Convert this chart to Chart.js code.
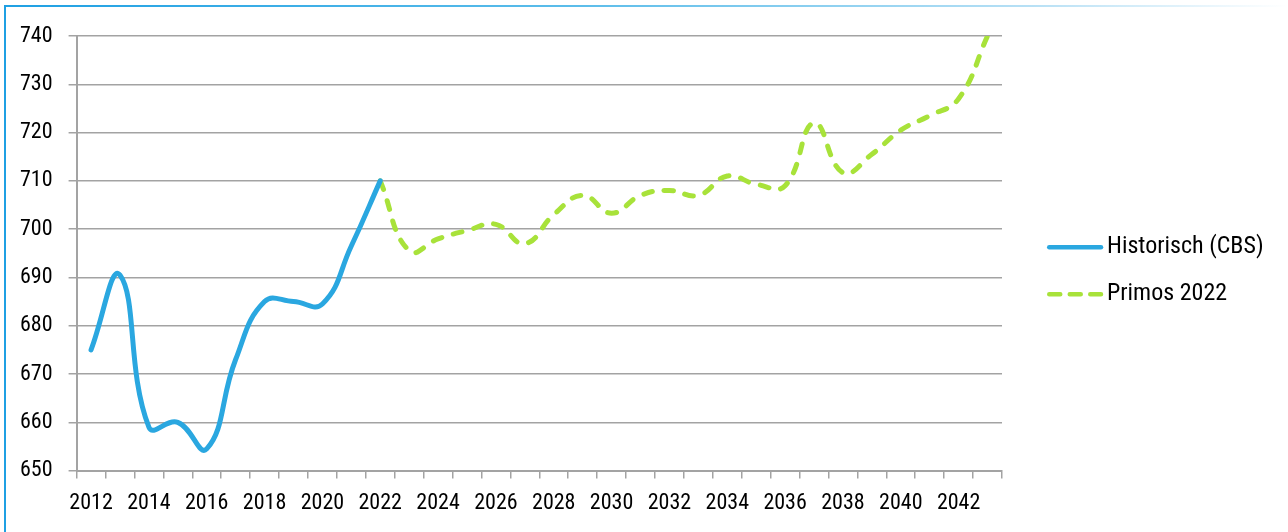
<!DOCTYPE html>
<html>
<head>
<meta charset="utf-8">
<script src="https://cdn.jsdelivr.net/npm/chart.js@4/dist/chart.umd.min.js"></script>
<style>
  html, body { margin: 0; padding: 0; background: #fff; }
  #wrap {
    position: relative;
    width: 1288px;
    height: 532px;
    overflow: hidden;
  }
  /* blue frame: solid left edge, top edge fading out to the right */
  #frame-left {
    position: absolute; left: 4px; top: 5px; width: 2px; height: 527px;
    background: #1fa0e3;
  }
  #frame-top {
    position: absolute; left: 4px; top: 5px; width: 1284px; height: 2px;
    background: linear-gradient(to right, #1fa0e3 0%, #5cbdea 45%, #b7e0f5 80%, #ffffff 100%);
  }
  canvas { position: absolute; left: 0; top: 0; }
</style>
</head>
<body>
<div id="wrap">
  <canvas id="chart" width="1288" height="532"></canvas>
  <div id="frame-left"></div>
  <div id="frame-top"></div>
</div>
<script>
// Years on the category axis
const years = [
  2012, 2013, 2014, 2015, 2016, 2017, 2018, 2019, 2020, 2021,
  2022, 2023, 2024, 2025, 2026, 2027, 2028, 2029, 2030, 2031,
  2032, 2033, 2034, 2035, 2036, 2037, 2038, 2039, 2040, 2041,
  2042, 2043
];

// Historical series (CBS), 2012-2022
const historisch = [
  675, 690.5, 659, 660, 654.5, 673, 685, 685, 684.5, 696.5,
  710
];

// Primos 2022 forecast, 2022-2043
const primos = [
  710, 695.5, 698, 699.7, 701, 697, 703, 707, 703.3, 707,
  708, 707, 711, 709.3, 709, 722, 711.7, 715.5, 720.5, 723.5,
  727, 740
];

const yTicks = [650, 660, 670, 680, 690, 700, 710, 720, 730, 740];

const blue = '#2aa7e0';
const green = '#a8e23a';
const gridGray = '#a3a3a3';
const fontFamily = '"Roboto Condensed", Roboto, sans-serif';

// Pad the series out so both line up on the same year axis
const histData = years.map((_, i) => (i < historisch.length ? historisch[i] : null));
const primosStart = years.indexOf(2022);
const primosData = years.map((_, i) => (i >= primosStart ? primos[i - primosStart] : null));

// Legend to the right of the plot: a line sample then the series name
const sideLegend = {
  id: 'sideLegend',
  afterDraw(chart) {
    const { ctx, chartArea } = chart;
    const midY = (chartArea.top + chartArea.bottom) / 2;
    const x0 = chartArea.right + 45;
    chart.data.datasets.forEach((ds, i) => {
      const y = midY - 6 + i * 47;
      ctx.save();
      ctx.strokeStyle = ds.borderColor;
      ctx.lineWidth = 4.5;
      ctx.lineCap = 'round';
      ctx.setLineDash(ds.borderDash ? [11, 9.5] : []);
      ctx.beginPath();
      ctx.moveTo(x0 + 2.25, y);
      ctx.lineTo(x0 + 54, y);
      ctx.stroke();
      ctx.setLineDash([]);
      ctx.fillStyle = '#000';
      ctx.font = '24px ' + fontFamily;
      ctx.textBaseline = 'middle';
      ctx.fillText(ds.label, x0 + 60, y);
      ctx.restore();
    });
  }
};

const ctx = document.getElementById('chart').getContext('2d');

new Chart(ctx, {
  type: 'line',
  data: {
    labels: years.map(String),
    datasets: [
      {
        label: 'Historisch (CBS)',
        data: histData,
        borderColor: blue,
        backgroundColor: blue,
        borderWidth: 5,
        borderCapStyle: 'round',
        tension: 0.45,
        pointRadius: 0,
        fill: false
      },
      {
        label: 'Primos 2022',
        data: primosData,
        borderColor: green,
        backgroundColor: green,
        borderWidth: 5,
        borderDash: [9, 12],
        borderCapStyle: 'round',
        tension: 0.45,
        pointRadius: 0,
        fill: false
      }
    ]
  },
  plugins: [sideLegend],
  options: {
    responsive: false,
    animation: false,
    layout: {
      padding: { left: 4, right: 286, top: 36, bottom: 3 }
    },
    plugins: {
      tooltip: { enabled: false },
      legend: { display: false }
    },
    scales: {
      x: {
        offset: true,
        grid: {
          offset: true,
          drawOnChartArea: false,
          tickLength: 8,
          color: gridGray,
          lineWidth: 1.5
        },
        border: { color: gridGray, width: 2 },
        ticks: {
          autoSkip: false,
          maxRotation: 0,
          padding: 12,
          color: '#000',
          font: { family: fontFamily, size: 22 },
          // label every other year
          callback: function (value, index) {
            return index % 2 === 0 ? this.getLabelForValue(value) : '';
          }
        }
      },
      y: {
        min: 650,
        max: 740,
        afterBuildTicks: (scale) => {
          scale.ticks = yTicks.map(v => ({ value: v }));
        },
        grid: {
          tickLength: 8,
          color: gridGray,
          lineWidth: 1.5
        },
        border: { color: gridGray, width: 2 },
        ticks: {
          padding: 16,
          color: '#000',
          font: { family: fontFamily, size: 22 }
        }
      }
    }
  }
});
</script>
</body>
</html>
